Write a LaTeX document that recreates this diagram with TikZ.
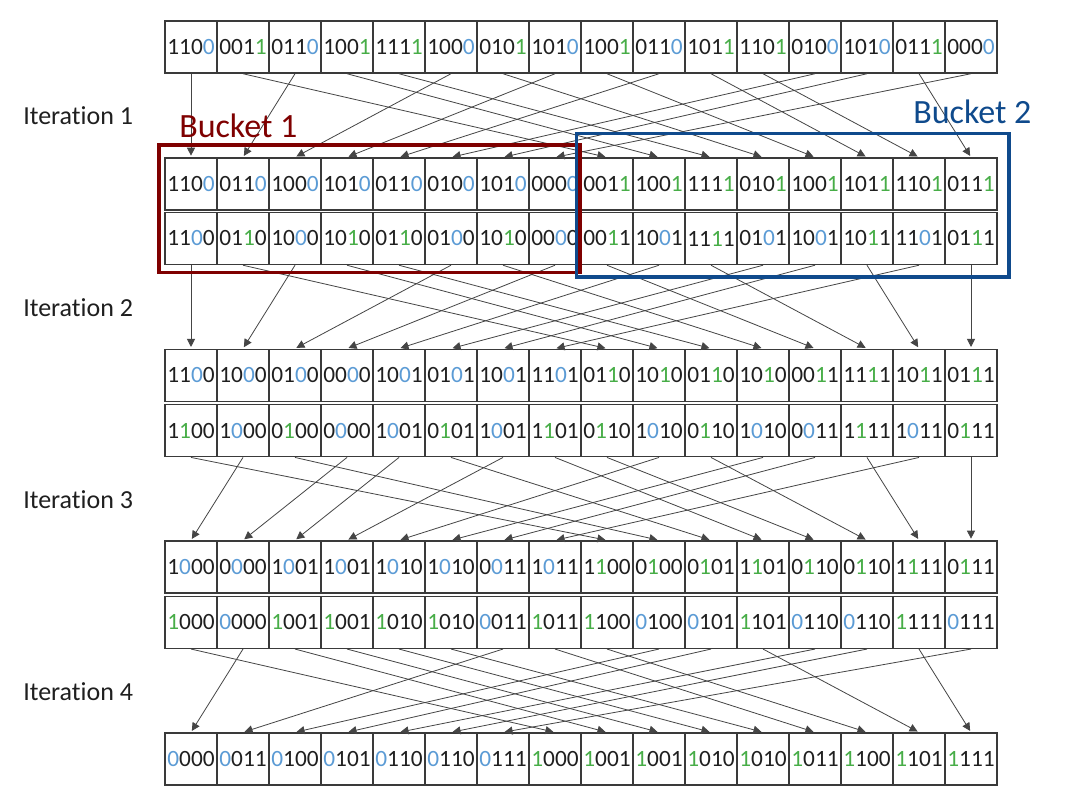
\documentclass[tikz,border=0pt]{standalone}
\usepackage{fontspec}
\setmainfont{Carlito}[Ligatures=NoCommon]
\usetikzlibrary{arrows.meta}
\definecolor{bz}{HTML}{5B9BD5}
\definecolor{bo}{HTML}{47AD47}
\definecolor{bkone}{HTML}{7F0000}
\definecolor{bktwo}{HTML}{0F4A8C}
\definecolor{ln}{HTML}{3A3A3A}
\definecolor{cn}{HTML}{454545}
\newcommand\hl[1]{\ifnum#1=0 \textcolor{bz}{0}\else\textcolor{bo}{1}\fi}
\def\pA#1#2#3#4{\hl{#1}#2#3#4}
\def\pB#1#2#3#4{#1\hl{#2}#3#4}
\def\pC#1#2#3#4{#1#2\hl{#3}#4}
\def\pD#1#2#3#4{#1#2#3\hl{#4}}
\newcommand\rowcells[4]{%
  \foreach \v [count=\i from 0] in {#4} {\node[cellbox] (#1-\i) at ({191+52*\i},#2) {\expandafter#3\v};}}
\newcommand\links[3]{%
  \foreach \s/\d in {#3} {\draw[conn] (#1-\s.south) -- (#2-\d.north);}}
\tikzset{
  cellbox/.style={draw=ln, line width=1.1pt, minimum width=39pt, minimum height=39pt, inner sep=0pt,
    font=\fontsize{17.5}{19}\selectfont, text=black!88},
  conn/.style={draw=cn, line width=0.6pt, shorten >=1.2pt, -{Triangle[length=6pt,width=6pt]}},
  itlab/.style={anchor=base west, inner sep=0pt, font=\fontsize{19.5}{22}\selectfont, text=black!88},
  bklab/.style={anchor=base west, inner sep=0pt, font=\fontsize{25.5}{30}\selectfont},
}
\begin{document}
\begin{tikzpicture}[x=0.75pt,y=-0.75pt]
\fill[white] (0,0) rectangle (1067,803);
\useasboundingbox (0,0) rectangle (1067,803);
% rows
\rowcells{ra}{47}{\pD}{1100,0011,0110,1001,1111,1000,0101,1010,1001,0110,1011,1101,0100,1010,0111,0000}
\rowcells{rb}{184}{\pD}{1100,0110,1000,1010,0110,0100,1010,0000,0011,1001,1111,0101,1001,1011,1101,0111}
\rowcells{rbb}{238.5}{\pC}{1100,0110,1000,1010,0110,0100,1010,0000,0011,1001,1111,0101,1001,1011,1101,0111}
\rowcells{rc}{375.3}{\pC}{1100,1000,0100,0000,1001,0101,1001,1101,0110,1010,0110,1010,0011,1111,1011,0111}
\rowcells{rcb}{430.7}{\pB}{1100,1000,0100,0000,1001,0101,1001,1101,0110,1010,0110,1010,0011,1111,1011,0111}
\rowcells{rd}{567}{\pB}{1000,0000,1001,1001,1010,1010,0011,1011,1100,0100,0101,1101,0110,0110,1111,0111}
\rowcells{rdb}{622.3}{\pA}{1000,0000,1001,1001,1010,1010,0011,1011,1100,0100,0101,1101,0110,0110,1111,0111}
\rowcells{re}{759}{\pA}{0000,0011,0100,0101,0110,0110,0111,1000,1001,1001,1010,1010,1011,1100,1101,1111}
% connectors
\links{ra}{rb}{0/0,2/1,5/2,7/3,9/4,12/5,13/6,15/7,1/8,3/9,4/10,6/11,8/12,10/13,11/14,14/15}
\links{rbb}{rc}{0/0,2/1,5/2,7/3,9/4,11/5,12/6,14/7,1/8,3/9,4/10,6/11,8/12,10/13,13/14,15/15}
\links{rcb}{rd}{1/0,3/1,4/2,6/3,9/4,11/5,12/6,14/7,0/8,2/9,5/10,7/11,8/12,10/13,13/14,15/15}
\links{rdb}{re}{1/0,6/1,9/2,10/3,12/4,13/5,15/6,0/7,2/8,3/9,4/10,5/11,7/12,8/13,11/14,14/15}
% buckets
\draw[bkone, line width=2.3pt] (159,145) rectangle (580,272.5);
\draw[bktwo, line width=2.3pt] (576.5,133.5) rectangle (1009,277);
\node[bklab, text=bkone] (bk1) at (179,137.7) {Bucket 1};
\node[bklab, text=bktwo] (bk2) at (913,123.3) {Bucket 2};
% iteration labels
\node[itlab] (it1) at (23,124) {Iteration 1};
\node[itlab] (it2) at (23,316) {Iteration 2};
\node[itlab] (it3) at (23,508.3) {Iteration 3};
\node[itlab] (it4) at (23,700) {Iteration 4};
\end{tikzpicture}
\end{document}
